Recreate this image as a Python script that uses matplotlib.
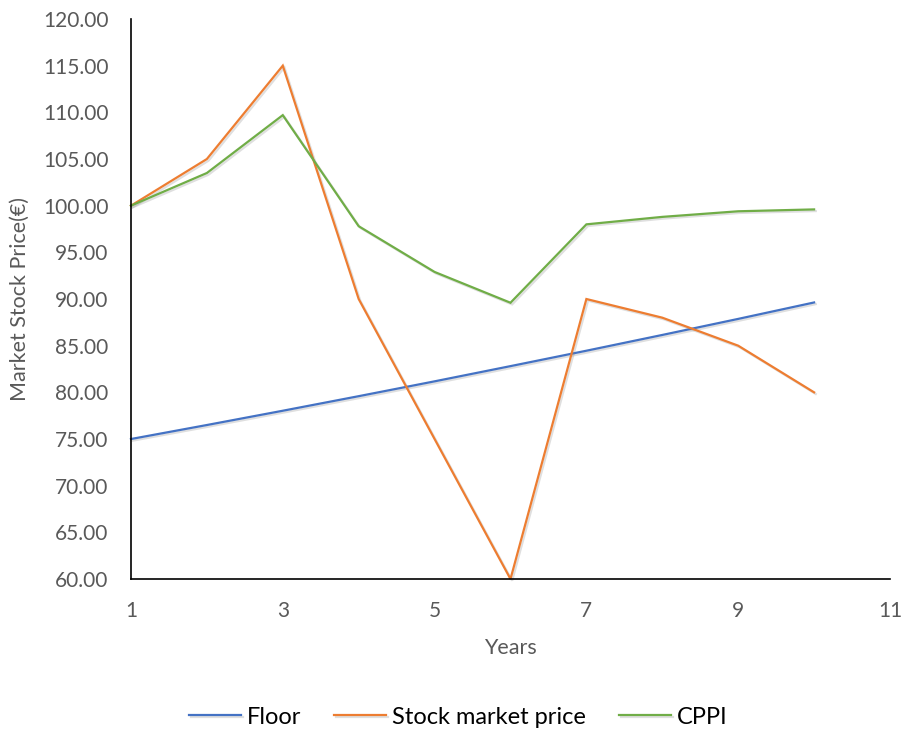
import matplotlib
matplotlib.use("Agg")
import matplotlib.pyplot as plt
import matplotlib.patheffects as pe

years = [1, 2, 3, 4, 5, 6, 7, 8, 9, 10]
floor = [75.00, 76.50, 78.03, 79.59, 81.18, 82.81, 84.46, 86.15, 87.87, 89.63]
stock = [100, 105, 115, 90, 75, 60, 90, 88, 85, 80]
cppi = [100.0, 103.5, 109.7, 97.8, 92.9, 89.6, 98.0, 98.8, 99.4, 99.6]

series_names = ["Floor", "Stock market price", "CPPI"]
colors = ["#4472C4", "#ED7D31", "#70AD47"]

x_ticks = [1, 3, 5, 7, 9, 11]
y_ticks = list(range(60, 121, 5))

plt.rcParams["font.family"] = ["Lato", "DejaVu Sans"]
text_color = "#595959"

fig = plt.figure(figsize=(9.02, 7.31), dpi=100)
ax = fig.add_axes([0.1452, 0.2079, 0.8415, 0.7661])

shadow = [pe.SimpleLineShadow(offset=(1.2, -1.2), shadow_color="gray", alpha=0.25),
          pe.Normal()]
for vals, name, c in zip([floor, stock, cppi], series_names, colors):
    ax.plot(years, vals, color=c, lw=1.6, label=name, path_effects=shadow,
            solid_joinstyle="miter", clip_on=False)

ax.set_xlim(1, 11)
ax.set_ylim(60, 120)
ax.set_xticks(x_ticks)
ax.set_yticks(y_ticks)
ax.set_yticklabels([f"{v:.2f}" for v in y_ticks])
ax.tick_params(length=0, labelsize=15, colors=text_color)
ax.tick_params(axis="y", pad=16)
ax.tick_params(axis="x", pad=16)

for s in ["top", "right"]:
    ax.spines[s].set_visible(False)
for s in ["left", "bottom"]:
    ax.spines[s].set_color("black")
    ax.spines[s].set_linewidth(1.2)

ax.set_xlabel("Years", fontsize=15.5, color=text_color, va="center")
ax.set_ylabel("Market Stock Price(€)", fontsize=15.5, color=text_color, va="center")
ax.xaxis.set_label_coords(0.5, -0.123)
ax.yaxis.set_label_coords(-0.146, 0.5)

leg = fig.legend(loc="center", bbox_to_anchor=(0.508, 0.019), ncol=3, frameon=False,
                 fontsize=17, handlelength=2.2, handletextpad=0.25, columnspacing=1.4)

fig.savefig("out.png", dpi=100, facecolor="white")
